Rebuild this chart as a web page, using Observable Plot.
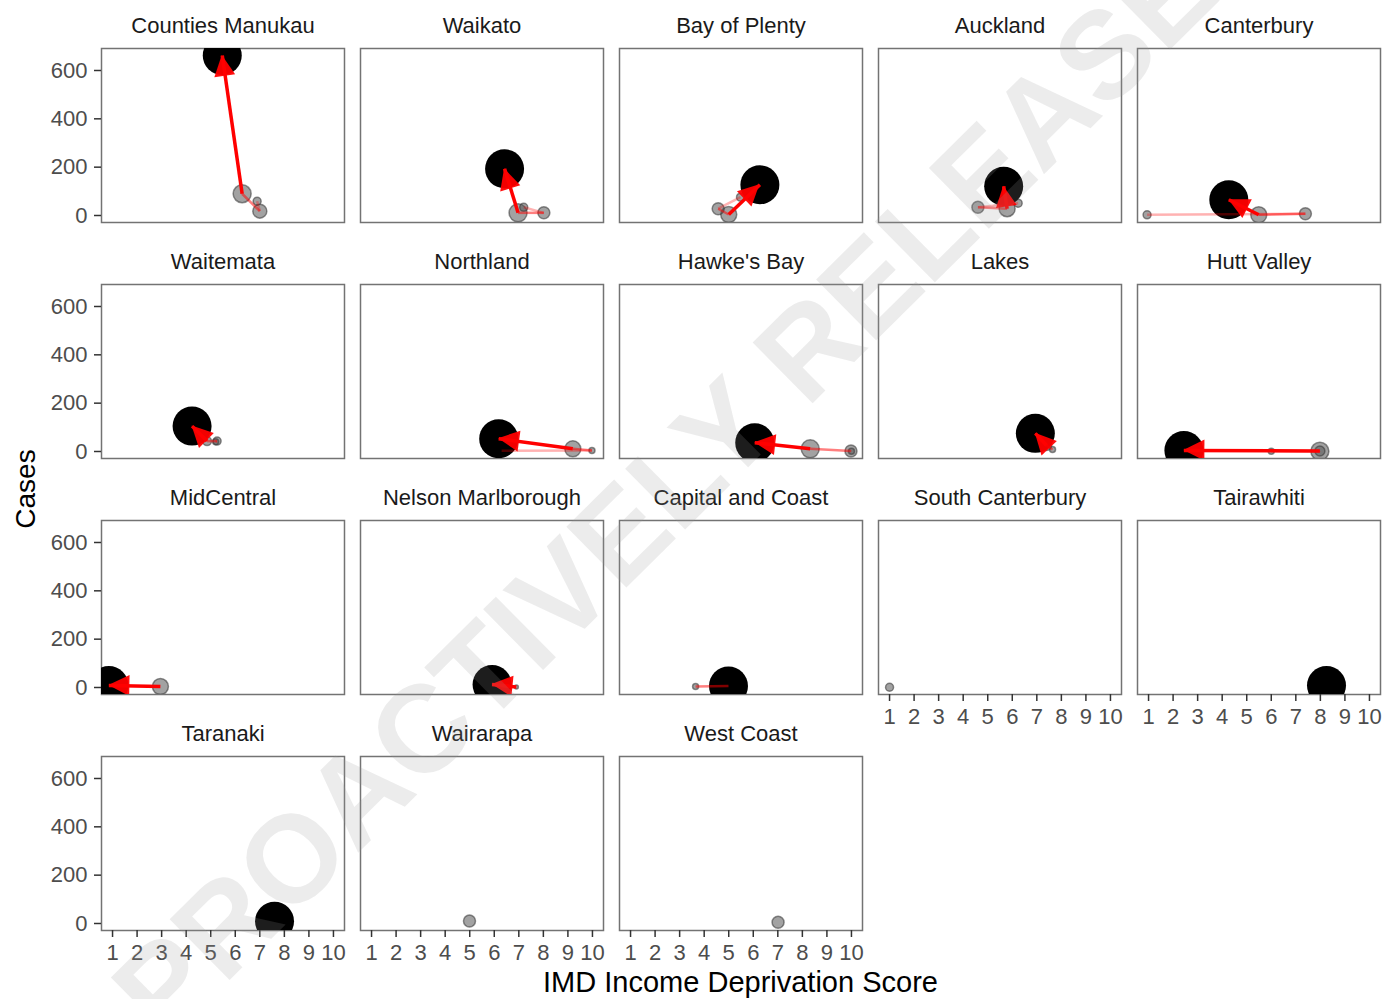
<!DOCTYPE html>
<html>
<head>
<meta charset="utf-8">
<script src="https://cdn.jsdelivr.net/npm/d3@7"></script>
<script src="https://cdn.jsdelivr.net/npm/@observablehq/plot@0.6"></script>
<style>
  html, body { margin: 0; padding: 0; background: #fff; }
  #wrap { position: relative; width: 1394px; height: 999px; overflow: hidden; font-family: "Liberation Sans", Arial, sans-serif; }
  #chart { position: absolute; left: 0; top: 0; }
  #overlay { position: absolute; left: 0; top: 0; pointer-events: none; font-family: "Liberation Sans", Arial, sans-serif; }
</style>
</head>
<body>
<div id="wrap">
  <div id="chart"></div>
  <svg id="overlay" width="1394" height="999">
    <text x="740.5" y="982" text-anchor="middle" dominant-baseline="central" font-size="29" fill="#000">IMD Income Deprivation Score</text>
    <text transform="translate(25,489) rotate(-90)" text-anchor="middle" dominant-baseline="central" font-size="28" fill="#000">Cases</text>
    <text transform="translate(165,1044) rotate(-44.7)" font-size="124" font-weight="bold" fill="#9a9a9a" fill-opacity="0.19">PROACTIVELY RELEASE</text>
  </svg>
</div>
<script>
// ---- Data ----
const dhbs = [
  "Counties Manukau", "Waikato", "Bay of Plenty", "Auckland", "Canterbury",
  "Waitemata", "Northland", "Hawke's Bay", "Lakes", "Hutt Valley",
  "MidCentral", "Nelson Marlborough", "Capital and Coast", "South Canterbury", "Tairawhiti",
  "Taranaki", "Wairarapa", "West Coast"
];

// earlier periods (grey points)
const ptDhb = [
  "Counties Manukau", "Counties Manukau", "Counties Manukau",
  "Waikato", "Waikato", "Waikato",
  "Bay of Plenty", "Bay of Plenty", "Bay of Plenty",
  "Auckland", "Auckland", "Auckland",
  "Canterbury", "Canterbury", "Canterbury",
  "Waitemata", "Waitemata", "Waitemata",
  "Northland", "Northland", "Northland",
  "Hawke's Bay", "Hawke's Bay", "Hawke's Bay",
  "Lakes", "Lakes",
  "Hutt Valley", "Hutt Valley", "Hutt Valley",
  "MidCentral",
  "Nelson Marlborough",
  "Capital and Coast", "Capital and Coast",
  "South Canterbury",
  "Wairarapa",
  "West Coast"
];
const ptPeriod = [1,2,3, 1,2,3, 1,2,3, 1,2,3, 1,2,3, 1,2,3, 1,2,3, 1,2,3, 1,2, 1,2,3, 1, 1, 1,2, 1, 1, 1];
const ptScore = [
  6.89, 7.0, 6.28,
  7.2, 8.02, 6.97,
  5.48, 4.57, 5.0,
  6.24, 4.6, 5.79,
  0.94, 7.39, 5.49,
  5.2, 5.26, 4.85,
  6.3, 9.98, 9.2,
  10.0, 9.98, 8.32,
  7.64, 7.4,
  6.0, 7.98, 7.98,
  2.95,
  6.9,
  3.65, 4.99,
  1.0,
  4.99,
  7.01
];
const ptCases = [
  59, 18, 90,
  34, 11, 11,
  76, 28, 4,
  51, 34, 28,
  3, 7, 3,
  40, 43, 43,
  3, 4, 11,
  1, 2, 11,
  8, 25,
  1, 1, 2,
  4,
  2,
  4, 6,
  1,
  10,
  5
];
// relative marker size (area-scaled)
const ptWeight = [
  16, 49, 81,
  16, 36, 81,
  16, 36, 64,
  16, 36, 64,
  16, 36, 64,
  9, 16, 20,
  9, 9, 64,
  9, 36, 81,
  9, 25,
  9, 81, 25,
  64,
  4,
  9, 9,
  16,
  36,
  36
];

// latest period (black points)
const latestDhb = [
  "Counties Manukau", "Waikato", "Bay of Plenty", "Auckland", "Canterbury",
  "Waitemata", "Northland", "Hawke's Bay", "Lakes", "Hutt Valley",
  "MidCentral", "Nelson Marlborough", "Capital and Coast", "Tairawhiti", "Taranaki"
];
const latestScore = [5.47, 6.42, 6.27, 5.65, 4.27, 4.24, 6.18, 6.06, 6.94, 2.44, 0.85, 5.91, 4.99, 8.25, 7.6];
const latestCases = [662, 193, 127, 121, 65, 105, 53, 36, 75, 4, 8, 12, 6, 8, 9];

const xTicks = [1, 2, 3, 4, 5, 6, 7, 8, 9, 10];
const yTicks = [0, 200, 400, 600];

// ---- Build tables ----
const cell = name => { const i = dhbs.indexOf(name); return {col: i % 5, row: Math.floor(i / 5)}; };
const panels = dhbs.map(name => ({name, ...cell(name)}));
const points = ptDhb.map((d, i) => ({dhb: d, period: ptPeriod[i], score: ptScore[i], cases: ptCases[i], weight: ptWeight[i], ...cell(d)}));
const latest = latestDhb.map((d, i) => ({dhb: d, score: latestScore[i], cases: latestCases[i], ...cell(d)}));

const segs = [];
for (const name of dhbs) {
  const seq = points.filter(p => p.dhb === name).sort((a, b) => a.period - b.period);
  const last = latest.find(p => p.dhb === name);
  const chain = last ? [...seq, last] : seq;
  const n = chain.length - 1;
  const c = cell(name);
  for (let k = 0; k < n; k++) {
    segs.push({x1: chain[k].score, y1: chain[k].cases, x2: chain[k + 1].score, y2: chain[k + 1].cases,
      fromEnd: n - 1 - k, head: !!last && k === n - 1, ...c});
  }
}
const heads = segs.filter(s => s.head);

const opac = [1, 0.5, 0.3];

function arrowHeads(index, scales, values, dimensions, context, next) {
  const g = next(index, scales, values, dimensions, context);
  const {x1: X1, y1: Y1, x2: X2, y2: Y2} = values;
  const ns = "http://www.w3.org/2000/svg";
  for (const i of index) {
    const dx = X2[i] - X1[i], dy = Y2[i] - Y1[i], L = Math.hypot(dx, dy);
    if (L < 1) continue;
    const ux = dx / L, uy = dy / L, len = 21, hw = 10.5;
    const bx = X2[i] - ux * len, by = Y2[i] - uy * len;
    const p = document.createElementNS(ns, "path");
    p.setAttribute("d", `M${X2[i]},${Y2[i]}L${bx - uy * hw},${by + ux * hw}L${bx + uy * hw},${by - ux * hw}Z`);
    p.setAttribute("fill", "#ff0000");
    p.setAttribute("fill-opacity", "0.95");
    g.appendChild(p);
  }
  return g;
}

const chart = Plot.plot({
  width: 1394,
  height: 960,
  marginLeft: 101,
  marginRight: 14,
  marginTop: 48,
  marginBottom: 30,
  x: {domain: [0.55, 10.45]},
  y: {domain: [-29, 691]},
  fx: {axis: null, paddingInner: 0.0618, paddingOuter: 0, round: false},
  fy: {axis: null, paddingInner: 0.2627, paddingOuter: 0, round: false},
  r: {type: "sqrt", domain: [0, 100], range: [0, 10]},
  style: {fontFamily: "Liberation Sans, Arial, sans-serif", fontSize: "22px", background: "#fff", color: "#4d4d4d", overflow: "visible"},
  marks: [
    Plot.frame({stroke: "#737373", strokeWidth: 1.5}),
    Plot.text(panels, {fx: "col", fy: "row", text: "name", frameAnchor: "top", lineAnchor: "middle", dy: -23, fontSize: 22, fill: "#1a1a1a"}),
    Plot.dot(points, {fx: "col", fy: "row", x: "score", y: "cases", r: "weight",
      fill: "#555", fillOpacity: 0.55, stroke: "#333", strokeOpacity: 0.55, strokeWidth: 1.5, clip: true}),
    Plot.dot(latest, {fx: "col", fy: "row", x: "score", y: "cases", r: 19.5, fill: "#000", clip: true}),
    Plot.link(segs, {fx: "col", fy: "row", x1: "x1", y1: "y1", x2: "x2", y2: "y2", stroke: "#ff0000",
      strokeOpacity: d => opac[d.fromEnd] ?? 0.3, strokeWidth: d => d.fromEnd === 0 ? 3.5 : 2.5, clip: true}),
    Plot.link(heads, {fx: "col", fy: "row", x1: "x1", y1: "y1", x2: "x2", y2: "y2", stroke: "none", clip: true, render: arrowHeads}),
    Plot.axisX({ticks: xTicks, tickFormat: d => String(d), facetAnchor: "bottom-empty", tickSize: 7, tickPadding: 7,
      stroke: "#333", strokeWidth: 1.5, color: "#4d4d4d", label: null}),
    Plot.axisY({ticks: yTicks, tickFormat: d => String(d), facetAnchor: "left", tickSize: 7, tickPadding: 7,
      stroke: "#333", strokeWidth: 1.5, color: "#4d4d4d", label: null})
  ]
});
document.getElementById("chart").appendChild(chart);
</script>
</body>
</html>
